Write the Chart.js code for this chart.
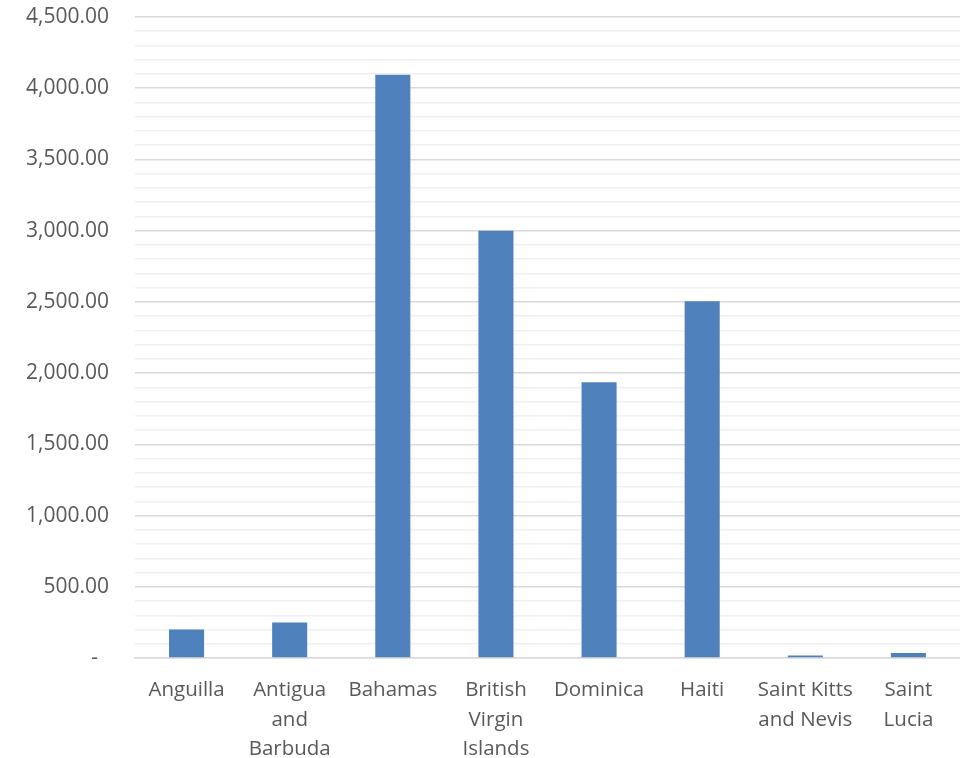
<!DOCTYPE html>
<html>
<head>
<meta charset="utf-8">
<script src="https://cdn.jsdelivr.net/npm/chart.js@4.4.1/dist/chart.umd.min.js"></script>
<style>
  html, body { margin: 0; padding: 0; background: #fff; }
  #wrap { width: 960px; height: 758px; }
</style>
</head>
<body>
<div id="wrap"><canvas id="myChart" width="960" height="758"></canvas></div>
<script>
// categories and values
var countries = [
  "Anguilla",
  ["Antigua", "and", "Barbuda"],
  "Bahamas",
  ["British", "Virgin", "Islands"],
  "Dominica",
  "Haiti",
  ["Saint Kitts", "and Nevis"],
  ["Saint", "Lucia"],
];
var amounts = [200, 250, 4095, 3000, 1935, 2505, 18, 35];
var yMax = 4500;
var yStep = 100;
var labelStep = 500;

var ctx = document.getElementById("myChart").getContext("2d");

var myChart = new Chart(ctx, {
  type: "bar",
  data: {
    labels: countries,
    datasets: [
      {
        data: amounts,
        backgroundColor: "#4F81BD",
        borderWidth: 0,
        categoryPercentage: 1,
        barPercentage: 0.34,
      },
    ],
  },
  options: {
    responsive: false,
    animation: false,
    layout: { padding: { top: 17, left: 0, right: 0, bottom: 0 } },
    plugins: { legend: { display: false }, tooltip: { enabled: false } },
    scales: {
      x: {
        grid: { display: false },
        border: { display: true, color: "#D9D9D9", width: 1.5 },
        ticks: {
          color: "#595959",
          font: { family: "Open Sans", size: 20.5, lineHeight: 1.42 },
          padding: 10,
          maxRotation: 0,
          autoSkip: false,
        },
        afterFit: function (scale) {
          scale.height = 100;
          scale.paddingLeft = 0;
          scale.paddingRight = 0;
        },
      },
      y: {
        min: 0,
        max: yMax,
        border: { display: false },
        grid: {
          drawTicks: false,
          color: function (c) {
            return c.tick.value % labelStep === 0 ? "#D9D9D9" : "#F0F0F0";
          },
          lineWidth: 1.5,
        },
        ticks: {
          stepSize: yStep,
          autoSkip: false,
          color: "#595959",
          font: { family: "Open Sans", size: 21 },
          padding: 26,
          callback: function (v) {
            if (v % labelStep !== 0) return "";
            if (v === 0) return "-  ";
            return v.toLocaleString("en-US", { minimumFractionDigits: 2, maximumFractionDigits: 2 });
          },
        },
        afterFit: function (scale) {
          scale.width = 135;
          scale.paddingTop = 0;
          scale.paddingBottom = 0;
        },
      },
    },
  },
});
</script>
</body>
</html>
